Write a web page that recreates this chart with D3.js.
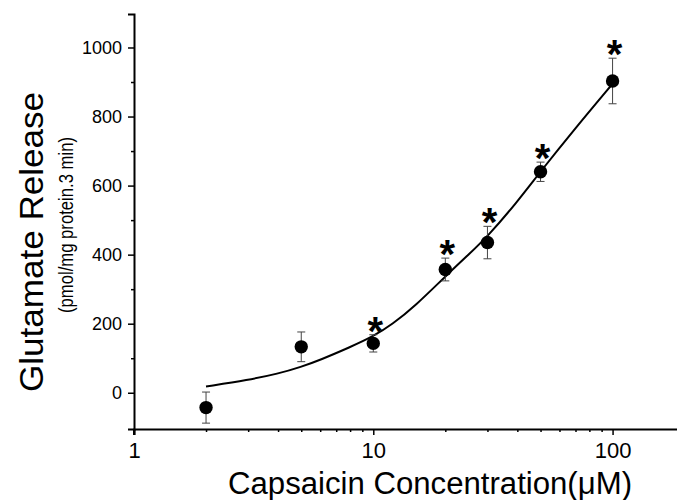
<!DOCTYPE html>
<html lang="en">
<head>
  <meta charset="utf-8">
  <title>Glutamate release vs capsaicin</title>
  <style>
    body { margin: 0; background: #fff; }
    svg { display: block; font-family: "Liberation Sans", Arial, sans-serif; }
  </style>
</head>
<body>
  <div id="chart"></div>
  <script src="https://cdnjs.cloudflare.com/ajax/libs/d3/7.8.5/d3.min.js"></script>
  <script type="text/javascript">

    // measured points (mean +/- SEM)
    var concentrations = [2, 5, 10, 20, 30, 50, 100];
    var release = [-43, 133, 143, 357, 435, 640, 903];
    var sem = [45, 43, 25, 33, 47, 28, 66];
    var significant = [false, false, true, true, true, true, true];

    // fitted curve
    var fitConc = [2, 3, 4, 5, 6, 8, 10, 12, 15, 20, 25, 30, 40, 50, 70, 100];
    var fitRelease = [18, 37, 55, 75, 95, 132, 163, 198, 252, 337, 400, 452, 553, 641, 767, 895];

    var yTicks = [0, 200, 400, 600, 800, 1000];
    var yMinor = [100, 300, 500, 700, 900];
    var xTicks = [1, 10, 100];
    var xMinor = [2, 3, 4, 5, 6, 7, 8, 9, 20, 30, 40, 50, 60, 70, 80, 90];

    var width = 677, height = 500;
    var font = "Liberation Sans, Arial, sans-serif";
    var svg = d3.select("#chart").append("svg")
                .attr("width", width)
                .attr("height", height);

    var x = d3.scaleLog().domain([1, 200]).range([134, 684.6]);
    var y = d3.scaleLinear().domain([-105, 1097]).range([429, 14]);

    // axes
    var yAxis = svg.append("g")
                   .attr("transform", "translate(134,0)")
                   .call(d3.axisLeft(y).tickValues(yTicks).tickSize(6).tickPadding(6).tickFormat(d3.format("d")));
    svg.append("g")
       .attr("transform", "translate(134,0)")
       .call(d3.axisLeft(y).tickValues(yMinor).tickSize(3).tickFormat(""))
       .select(".domain").remove();
    yAxis.attr("font-family", font).attr("font-size", 18);
    yAxis.selectAll("text").attr("fill", "#000");

    var xAxis = svg.append("g")
                   .attr("transform", "translate(0,429)")
                   .call(d3.axisBottom(x).tickValues(xTicks).tickSize(6).tickPadding(7).tickFormat(d3.format("d")));
    svg.append("g")
       .attr("transform", "translate(0,429)")
       .call(d3.axisBottom(x).tickValues(xMinor).tickSize(3).tickFormat(""))
       .select(".domain").remove();
    xAxis.attr("font-family", font).attr("font-size", 22);
    xAxis.selectAll("text").attr("fill", "#000");

    svg.selectAll(".domain").attr("stroke", "#000").attr("stroke-width", 2);
    svg.selectAll(".tick line").attr("stroke", "#000").attr("stroke-width", 1.5);
    // y axis continues down to the x tick at 1
    svg.append("line")
       .attr("x1", 134).attr("x2", 134)
       .attr("y1", 429).attr("y2", 435)
       .attr("stroke", "#000").attr("stroke-width", 2);

    // fitted curve
    var fit = fitConc.map(function(c, i){ return [c, fitRelease[i]]; });
    var line = d3.line()
                 .x(function(d){ return x(d[0]); })
                 .y(function(d){ return y(d[1]); })
                 .curve(d3.curveBasis);
    svg.append("path")
       .datum(fit)
       .attr("d", line)
       .attr("fill", "none")
       .attr("stroke", "#000")
       .attr("stroke-width", 2);

    var points = concentrations.map(function(c, i){
        return {c: c, v: release[i], e: sem[i], star: significant[i]};
    });

    // error bars
    var bars = svg.append("g").selectAll("g")
                  .data(points)
                  .enter().append("g")
                  .attr("stroke", "#444")
                  .attr("stroke-width", 1);
    bars.append("line")
        .attr("x1", function(d){ return x(d.c); })
        .attr("x2", function(d){ return x(d.c); })
        .attr("y1", function(d){ return y(d.v + d.e); })
        .attr("y2", function(d){ return y(d.v - d.e); });
    bars.append("line")
        .attr("x1", function(d){ return x(d.c) - 4; })
        .attr("x2", function(d){ return x(d.c) + 4; })
        .attr("y1", function(d){ return y(d.v + d.e); })
        .attr("y2", function(d){ return y(d.v + d.e); });
    bars.append("line")
        .attr("x1", function(d){ return x(d.c) - 4; })
        .attr("x2", function(d){ return x(d.c) + 4; })
        .attr("y1", function(d){ return y(d.v - d.e); })
        .attr("y2", function(d){ return y(d.v - d.e); });

    // dots
    svg.append("g").selectAll("circle")
       .data(points)
       .enter().append("circle")
       .attr("cx", function(d){ return x(d.c); })
       .attr("cy", function(d){ return y(d.v); })
       .attr("r", 6.7)
       .attr("fill", "#000");

    // significance stars
    svg.append("g").selectAll("text")
       .data(points.filter(function(d){ return d.star; }))
       .enter().append("text")
       .text("*")
       .attr("x", function(d){ return x(d.c) + 2; })
       .attr("y", function(d){ return y(d.v + d.e) + 10; })
       .attr("text-anchor", "middle")
       .attr("font-size", 40)
       .attr("font-weight", "bold");

    // axis titles
    svg.append("text")
       .text("Glutamate Release")
       .attr("transform", "translate(43,242) rotate(-90)")
       .attr("text-anchor", "middle")
       .attr("font-size", 34)
       .attr("textLength", 300)
       .attr("lengthAdjust", "spacingAndGlyphs");
    svg.append("text")
       .text("(pmol/mg protein.3 min)")
       .attr("transform", "translate(73,225) rotate(-90)")
       .attr("text-anchor", "middle")
       .attr("font-size", 21)
       .attr("textLength", 176)
       .attr("lengthAdjust", "spacingAndGlyphs");
    svg.append("text")
       .text("Capsaicin Concentration(\u03bcM)")
       .attr("x", 430)
       .attr("y", 494)
       .attr("text-anchor", "middle")
       .attr("font-size", 31)
       .attr("textLength", 404)
       .attr("lengthAdjust", "spacingAndGlyphs");
  </script>
</body>
</html>
